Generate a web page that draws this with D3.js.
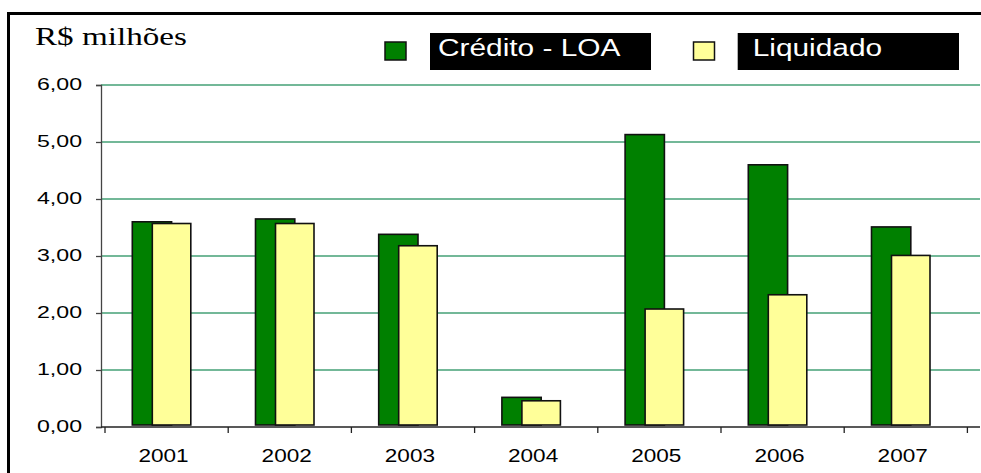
<!DOCTYPE html>
<html>
<head>
<meta charset="utf-8">
<script src="https://cdn.jsdelivr.net/npm/d3@7"></script>
<style>
  html, body { margin: 0; padding: 0; background: #fff; }
  svg { display: block; }
</style>
</head>
<body>
<svg id="chart" width="981" height="473"></svg>
<script>
const categories = ["2001", "2002", "2003", "2004", "2005", "2006", "2007"];
const creditoLOA = [3.60, 3.65, 3.38, 0.52, 5.13, 4.60, 3.51];
const liquidado = [3.57, 3.57, 3.18, 0.46, 2.07, 2.32, 3.01];
const yTicks = [0, 1, 2, 3, 4, 5, 6];
const yTickLabels = ["0,00", "1,00", "2,00", "3,00", "4,00", "5,00", "6,00"];
const seriesNames = ["Crédito - LOA", "Liquidado"];
const yTitle = "R$ milhões";

const svg = d3.select("#chart");

// outer frame
svg.append("rect")
  .attr("x", 8.5).attr("y", 13.5)
  .attr("width", 1000).attr("height", 500)
  .attr("fill", "none").attr("stroke", "#000").attr("stroke-width", 3);

const y = d3.scaleLinear().domain([0, 6]).range([427, 85]);
const x = d3.scaleBand().domain(categories).range([105, 967.4]).padding(0);
const axisX0 = 101, axisX1 = 980;

// gridlines
svg.append("g").selectAll("line")
  .data(yTicks.filter(d => d > 0))
  .join("line")
  .attr("x1", axisX0).attr("x2", axisX1)
  .attr("y1", d => y(d)).attr("y2", d => y(d))
  .attr("stroke", "#45a076").attr("stroke-width", 1.3);

// y axis
const yAxis = d3.axisLeft(y).tickValues(yTicks).tickSize(5).tickFormat("");
const gy = svg.append("g").attr("transform", `translate(${axisX0},0)`).call(yAxis);
gy.select(".domain").attr("stroke", "#444").attr("stroke-width", 1.3);
gy.selectAll(".tick line").attr("stroke", "#444").attr("stroke-width", 1.3);

// y labels (stretched horizontally like the original)
svg.append("g").selectAll("text")
  .data(yTicks)
  .join("text")
  .attr("transform", d => `translate(82,${y(d) - 1}) scale(1.36,1)`)
  .attr("text-anchor", "end")
  .attr("dy", "0.35em")
  .attr("font-family", "Arial, 'Liberation Sans', sans-serif")
  .attr("font-size", 17)
  .attr("fill", "#000")
  .text((d, i) => yTickLabels[i]);

// bars
const gW = 39.3, yW = 38.5, gOff = 27.3, yOff = 47.3;
svg.append("g").selectAll("rect")
  .data(categories)
  .join("rect")
  .attr("x", d => x(d) + gOff)
  .attr("y", (d, i) => y(creditoLOA[i]))
  .attr("width", gW)
  .attr("height", (d, i) => y(0) - 2 - y(creditoLOA[i]))
  .attr("fill", "#008000").attr("stroke", "#111").attr("stroke-width", 1.6);

svg.append("g").selectAll("rect")
  .data(categories)
  .join("rect")
  .attr("x", d => x(d) + yOff)
  .attr("y", (d, i) => y(liquidado[i]))
  .attr("width", yW)
  .attr("height", (d, i) => y(0) - 2 - y(liquidado[i]))
  .attr("fill", "#ffff99").attr("stroke", "#111").attr("stroke-width", 1.6);

// x axis
const tickPos = categories.map(c => x(c)).concat([x.range()[1]]);
svg.append("line")
  .attr("x1", axisX0).attr("x2", axisX1)
  .attr("y1", y(0)).attr("y2", y(0))
  .attr("stroke", "#222").attr("stroke-width", 1.3);
svg.append("g").selectAll("line")
  .data(tickPos)
  .join("line")
  .attr("x1", d => d).attr("x2", d => d)
  .attr("y1", y(0)).attr("y2", y(0) + 6)
  .attr("stroke", "#222").attr("stroke-width", 1.3);

svg.append("g").selectAll("text")
  .data(categories)
  .join("text")
  .attr("transform", d => `translate(${x(d) + 58.5},462) scale(1.22,1)`)
  .attr("text-anchor", "middle")
  .attr("font-family", "Arial, 'Liberation Sans', sans-serif")
  .attr("font-size", 18.5)
  .attr("fill", "#000")
  .text(d => d);

// y title
svg.append("text")
  .attr("transform", "translate(35,45) scale(1.3,1)")
  .attr("font-family", "'Liberation Serif', 'Times New Roman', serif")
  .attr("font-size", 25.5)
  .attr("fill", "#000")
  .text(yTitle);

// legend
const legend = [
  { name: seriesNames[0], color: "#008000", sx: 385, bx: 430, bw: 221, tx: 438 },
  { name: seriesNames[1], color: "#ffff99", sx: 693.5, bx: 737.7, bw: 221.3, tx: 752.7 }
];
const lg = svg.append("g").selectAll("g").data(legend).join("g");
lg.append("rect")
  .attr("x", d => d.sx).attr("y", 42)
  .attr("width", 21).attr("height", 18)
  .attr("fill", d => d.color).attr("stroke", "#111").attr("stroke-width", 1.5);
lg.append("rect")
  .attr("x", d => d.bx).attr("y", 33)
  .attr("width", d => d.bw).attr("height", 37)
  .attr("fill", "#000");
lg.append("text")
  .attr("transform", d => `translate(${d.tx},56) scale(1.27,1)`)
  .attr("font-family", "Arial, 'Liberation Sans', sans-serif")
  .attr("font-size", 23.5)
  .attr("fill", "#fff")
  .text(d => d.name);
</script>
</body>
</html>
